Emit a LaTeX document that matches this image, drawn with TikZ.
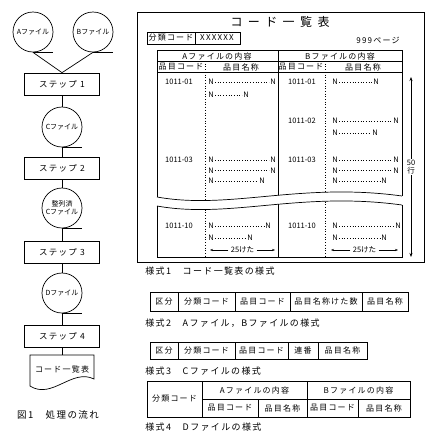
\documentclass[tikz,border=0pt]{standalone}
\usepackage{fontspec}
\setmainfont{Noto Sans CJK JP}
\newfontfamily\jpwide[LetterSpace=15]{Noto Sans CJK JP}
\newfontfamily\jpwider[LetterSpace=45]{Noto Sans CJK JP}
\usepackage{tikz}
\usetikzlibrary{arrows.meta}

\begin{document}
\begin{tikzpicture}[x=1pt,y=-1pt,line width=0.7pt,
  filebox/.style={draw,circle,minimum size=40pt,inner sep=0pt,align=center,font=\fontsize{7}{8}\selectfont},
  stepbox/.style={draw,minimum width=75pt,minimum height=22pt,inner sep=0pt,font=\fontsize{8.5}{9}\jpwide},
  tabtext/.style={inner sep=0pt,font=\fontsize{8}{9}\jpwide},
  ntext/.style={inner sep=0pt,font=\fontsize{7.5}{8}\selectfont},
  capt/.style={anchor=west,inner sep=0pt,font=\fontsize{9}{10}\jpwide}]
\useasboundingbox (0,0) rectangle (436,445);

\node[filebox] (fa) at (33,32) {Aファイル};
\node[filebox] (fb) at (93,32) {Bファイル};
\node[stepbox] (s1) at (62,84) {ステップ 1};
\node[filebox] (fc) at (62,127) {Cファイル};
\node[stepbox] (s2) at (62,168) {ステップ 2};
\node[filebox] (fcs) at (62,208) {整列済\\Cファイル};
\node[stepbox] (s3) at (62,252) {ステップ 3};
\node[filebox] (fd) at (62,293) {Dファイル};
\node[stepbox] (s4) at (62,336) {ステップ 4};
\coordinate (doctop) at (62,355);
\draw (30,355) -- (94,355) -- (94,379) .. controls (72,368) and (52,400) .. (30,386) -- cycle;
\node[inner sep=0pt,font=\fontsize{8}{9}\jpwide] (doc) at (62,369) {コード一覧表};

\foreach \f in {fa,fb,fc,fcs,fd}{
\draw[line width=1.2pt] (\f.south) --++ (20,0);
}
\draw (fa.south) -- (s1.north);
\draw (fb.south) -- (s1.north);
\draw (s1) -- (fc);
\draw (fc) -- (s2);
\draw (s2) -- (fcs);
\draw (fcs) -- (s3);
\draw (s3) -- (fd);
\draw (s4.north) -- (fd.south);
\draw (s4.south) -- (doctop);
\node[inner sep=0pt,font=\fontsize{9.5}{10}\jpwide] (fig) at (58,415) {図1　処理の流れ};

\draw (137,12) rectangle (424,262);
\node[inner sep=0pt,font=\fontsize{12}{13}\jpwider] (title) at (280,22) {コード一覧表};
\draw (147,32) rectangle (240,44);
\draw (195,32) -- (195,44);
\node[tabtext] at (171,38) {分類コード};
\node[tabtext] at (217,38) {XXXXXX};
\node[tabtext] at (378,40) {999ページ};

\draw (157,50) -- (402,50);
\draw (157,61) -- (402,61);
\draw (157,72) -- (402,72);
\draw (157,50) -- (157,197);
\draw (402,50) -- (402,196);
\draw (278,50) -- (278,72);
\draw[dotted] (205,61) -- (205,72);
\draw[dotted] (325,61) -- (325,72);
\node[tabtext] at (217,56) {Aファイルの内容};
\node[tabtext] at (340,56) {Bファイルの内容};
\node[tabtext] at (181,67) {品目コード};
\node[tabtext] at (241,67) {品目名称};
\node[tabtext] at (301,67) {品目コード};
\node[tabtext] at (363,67) {品目名称};

\draw (157,197) .. controls (230,210) and (300,182) .. (402,196);
\draw (157,206) .. controls (230,219) and (300,191) .. (402,205);
\draw (157,206) -- (157,257) -- (402,257) -- (402,205);
\begin{scope}
\clip (150,72) -- (150,197) -- (157,197) .. controls (230,210) and (300,182) .. (402,196) -- (410,196) -- (410,72) -- cycle;
\draw (278,72) -- (278,220);
\draw[dotted] (205,72) -- (205,220);
\draw[dotted] (325,72) -- (325,220);
\end{scope}
\begin{scope}
\clip (150,257) -- (150,206) -- (157,206) .. controls (230,219) and (300,191) .. (402,205) -- (410,205) -- (410,257) -- cycle;
\draw (278,180) -- (278,257);
\draw[dotted] (205,180) -- (205,257);
\draw[dotted] (325,180) -- (325,257);
\end{scope}

\foreach \x/\y/\t in {179/82/1011-01,179/160/1011-03,179/226/1011-10,302/82/1011-01,302/121/1011-02,302/160/1011-03,302/226/1011-10}{
\node[ntext] at (\x,\y) {\t};
}
\foreach \xa/\xb/\y in {211/273/82,211/246/95,211/273/160,211/273/170.5,211/262/181,211/268/226,211/250/238,
  335/376/82,335/396/121,335/375/133,335/396/160,335/396/170.5,335/384/181,335/398/226,335/384/238}{
\node[ntext] at (\xa,\y) {N};
\node[ntext] at (\xb,\y) {N};
\draw[dotted] (\xa+4,\y) -- (\xb-4,\y);
}
\foreach \xa/\xb in {210/275,331/398}{
\pgfmathsetmacro{\xm}{(\xa+\xb)/2}
\node[ntext,fill=white,inner xsep=2pt] (k\xa) at (\xm,250) {25けた};
\draw[-{Stealth[length=3pt]}] (k\xa.west) -- (\xa,250);
\draw[-{Stealth[length=3pt]}] (k\xa.east) -- (\xb,250);
}
\node[ntext,align=center,fill=white,inner sep=1pt] (rows) at (411,167) {50\\行};
\draw[-{Stealth[length=4pt]}] (rows.north) -- (411,77);
\draw[-{Stealth[length=4pt]}] (rows.south) -- (411,257);

\node[capt] at (145,271) {様式1　コード一覧表の様式};

\draw (150,292) rectangle (408,311);
\foreach \x in {178,235,290,362}{
\draw (\x,292) -- (\x,311);
}
\foreach \x/\t in {164/区分,206.5/分類コード,262.5/品目コード,326/品目名称けた数,385/品目名称}{
\node[tabtext] at (\x,301.5) {\t};
}
\node[capt] at (145,323) {様式2　Aファイル，Bファイルの様式};

\draw (150,342) rectangle (367,359);
\foreach \x in {178,235,288,318}{
\draw (\x,342) -- (\x,359);
}
\foreach \x/\t in {164/区分,206.5/分類コード,261.5/品目コード,303/連番,342.5/品目名称}{
\node[tabtext] at (\x,350.5) {\t};
}
\node[capt] at (145,371) {様式3　Cファイルの様式};

\draw (147,381) rectangle (410,417);
\draw (202,381) -- (202,417);
\draw (307,381) -- (307,417);
\draw (202,399) -- (410,399);
\draw (258,399) -- (258,417);
\draw (358,399) -- (358,417);
\node[tabtext] at (174.5,399) {分類コード};
\node[tabtext] at (254.5,390) {Aファイルの内容};
\node[tabtext] at (358.5,390) {Bファイルの内容};
\foreach \x/\t in {230/品目コード,282.5/品目名称,332.5/品目コード,384/品目名称}{
\node[tabtext] at (\x,408) {\t};
}
\node[capt] at (145,427) {様式4　Dファイルの様式};
\end{tikzpicture}
\end{document}
